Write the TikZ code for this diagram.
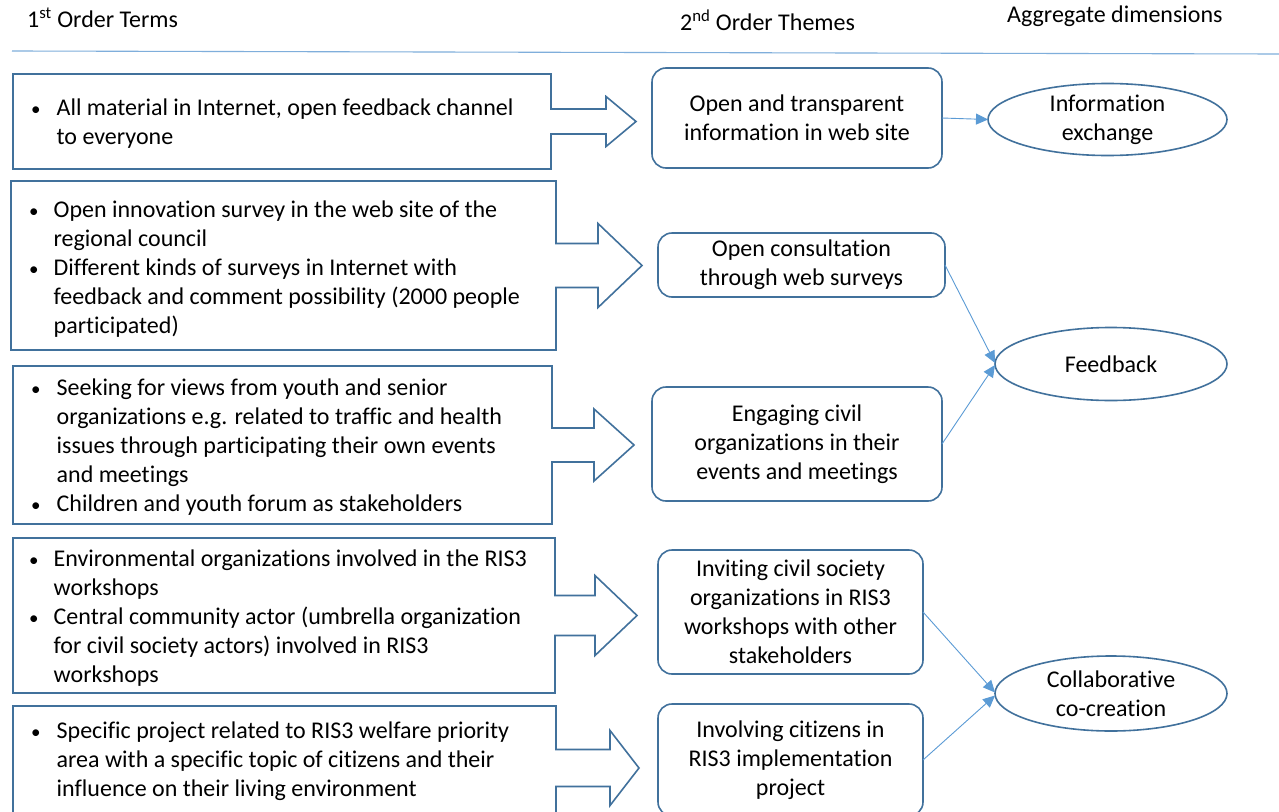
\documentclass[tikz,border=0pt]{standalone}
\usepackage{fontspec}
\setmainfont{Carlito}[Ligatures=NoCommon]
\usetikzlibrary{arrows.meta,shapes.geometric}
\definecolor{boxblue}{HTML}{41719C}
\definecolor{linkblue}{HTML}{5B9BD5}
\definecolor{ruleblue}{HTML}{7FAEDB}
\newcommand\calloutarrow[5]{%
  \draw[termline] (#1.north west) -- (#1.north east) -- ([yshift=#2]#1.east)
    -- ([xshift=#4,yshift=#2]#1.east) -- ([xshift=#4,yshift=#3]#1.east)
    -- ([xshift=#4+#5]#1.east) -- ([xshift=#4,yshift=-#3]#1.east)
    -- ([xshift=#4,yshift=-#2]#1.east) -- ([yshift=-#2]#1.east)
    -- (#1.south east) -- (#1.south west) -- cycle;}
\newcommand\blt{{\fontsize{19}{29}\selectfont\textbullet}}
\begin{document}
\begin{tikzpicture}[x=1pt,y=-1pt,
  every node/.style={font=\fontsize{24}{29}\selectfont, text=black},
  termbox/.style={draw=none, rectangle, inner sep=0pt, outer sep=0pt},
  termline/.style={draw=boxblue, line width=1.6pt, line join=miter},
  termtext/.style={anchor=west, inner sep=0pt, align=left},
  theme/.style={draw=boxblue, line width=1.6pt, rounded corners=14pt, align=center, inner sep=0pt, outer sep=0pt},
  dim/.style={draw=boxblue, line width=1.6pt, ellipse, align=center, inner sep=0pt, outer sep=0pt},
  link/.style={draw=linkblue, line width=0.9pt, -{Triangle[length=12pt,width=11pt]}},
  header/.style={anchor=west, inner sep=0pt}]
\useasboundingbox (0,0) rectangle (1279,811);
\clip (0,0) rectangle (1279,811);
\fill[white] (0,0) rectangle (1279,811);

% headers
\node[header] (h1) at (27,18) {1\textsuperscript{st} Order Terms};
\node[header] (h2) at (680,20) {2\textsuperscript{nd} Order Themes};
\node[header] (h3) at (1007,16) {Aggregate dimensions};
\coordinate (ruleL) at (12,51);
\coordinate (ruleR) at (1279,54);
\draw[ruleblue, line width=1.1pt] (ruleL) -- (ruleR);

% first order term boxes
\node[termbox, minimum width=538pt, minimum height=95pt] (b1) at (282,121.5) {};
\calloutarrow{b1}{12.5}{25}{55}{30}
\node[termtext] (b1t) at (31,124) {\begin{tabular}{@{}l@{\hspace{16pt}}l@{}}\blt & All material in Internet, open feedback channel\\ & to everyone\end{tabular}};

\node[termbox, minimum width=545pt, minimum height=169pt] (b2) at (283.5,265.5) {};
\calloutarrow{b2}{22}{42}{42}{44}
\node[termtext] (b2t) at (29,270) {\begin{tabular}{@{}l@{\hspace{15pt}}l@{}}\blt & Open innovation survey in the web site of the\\ & regional council\\ \blt & Different kinds of surveys in Internet with\\ & feedback and comment possibility (2000 people\\ & participated)\end{tabular}};

\node[termbox, minimum width=539pt, minimum height=158pt] (b3) at (282.5,445) {};
\calloutarrow{b3}{17}{36}{42}{40}
\node[termtext] (b3t) at (31,448) {\begin{tabular}{@{}l@{\hspace{16pt}}l@{}}\blt & Seeking for views from youth and senior\\ & organizations e.g. related to traffic and health\\ & issues through participating their own events\\ & and meetings\\ \blt & Children and youth forum as stakeholders\end{tabular}};

\node[termbox, minimum width=542pt, minimum height=155pt] (b4) at (284,615.5) {};
\calloutarrow{b4}{20}{40}{40}{42}
\node[termtext] (b4t) at (29,619) {\begin{tabular}{@{}l@{\hspace{15pt}}l@{}}\blt & Environmental organizations involved in the RIS3\\ & workshops\\ \blt & Central community actor (umbrella organization\\ & for civil society actors) involved in RIS3\\ & workshops\end{tabular}};

\node[termbox, minimum width=543pt, minimum height=124pt] (b5) at (284.5,768) {};
\calloutarrow{b5}{18.5}{37.5}{54}{29}
\node[termtext] (b5t) at (31,762) {\begin{tabular}{@{}l@{\hspace{16pt}}l@{}}\blt & Specific project related to RIS3 welfare priority\\ & area with a specific topic of citizens and their\\ & influence on their living environment\end{tabular}};

% second order themes
\node[theme, minimum width=290pt, minimum height=100pt] (s1) at (797,118) {Open and transparent\\information in web site};
\node[theme, minimum width=287pt, minimum height=64pt] (s2) at (801.5,265) {Open consultation\\through web surveys};
\node[theme, minimum width=290pt, minimum height=114pt] (s3) at (797,444) {Engaging civil\\organizations in their\\events and meetings};
\node[theme, minimum width=265pt, minimum height=124pt] (s4) at (790.5,612) {Inviting civil society\\organizations in RIS3\\workshops with other\\stakeholders};
\node[theme, minimum width=265pt, minimum height=112pt] (s5) at (790.5,760) {Involving citizens in\\RIS3 implementation\\project};

% aggregate dimensions
\node[dim, minimum width=239pt, minimum height=72pt] (d1) at (1107.5,119.5) {Information\\exchange};
\node[dim, minimum width=232pt, minimum height=73pt] (d2) at (1111,364) {Feedback};
\node[dim, minimum width=232pt, minimum height=75pt] (d3) at (1111,693.5) {Collaborative\\co-creation};

% connectors
\draw[link] (s1.east) -- (d1.west);
\draw[link] (s2.east) -- ([yshift=1pt]d2.west);
\draw[link] (s3.east) -- ([yshift=-1pt]d2.west);
\draw[link] (s4.east) -- ([yshift=1pt]d3.west);
\draw[link] (s5.east) -- ([yshift=-2pt]d3.west);
\end{tikzpicture}
\end{document}
